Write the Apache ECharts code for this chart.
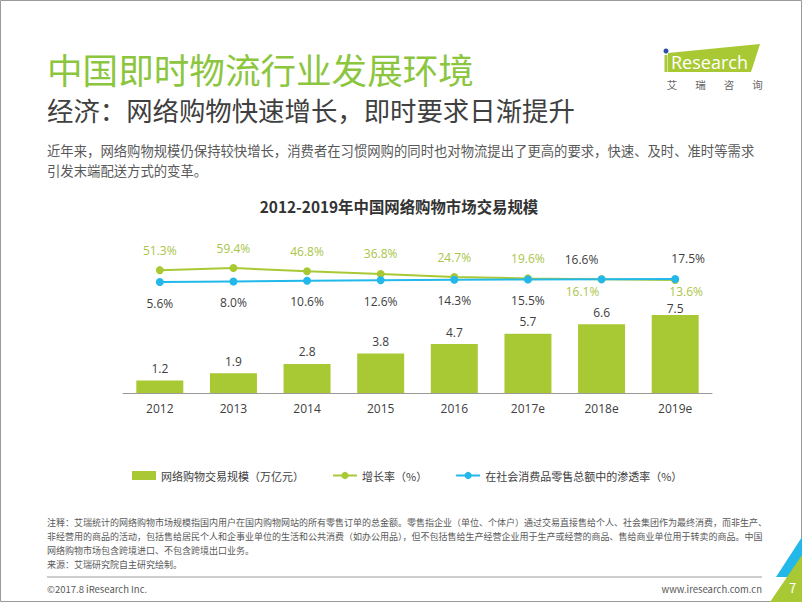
<!DOCTYPE html>
<html><head><meta charset="utf-8">
<script src="https://cdn.jsdelivr.net/npm/echarts@6/dist/echarts.min.js"></script>
<style>html,body{margin:0;padding:0;background:#fff}#c{width:802px;height:602px}</style>
</head><body><div id="c"></div>
<script>
var categories = ['2012','2013','2014','2015','2016','2017e','2018e','2019e'];
var marketScale = [1.2,1.9,2.8,3.8,4.7,5.7,6.6,7.5];
var growthRate = [51.3,59.4,46.8,36.8,24.7,19.6,16.1,13.6];
var penetration = [5.6,8.0,10.6,12.6,14.3,15.5,16.6,17.5];
var seriesNames = ['网络购物交易规模（万亿元）','增长率（%）','在社会消费品零售总额中的渗透率（%）'];
var footnotes = [
 '注释：艾瑞统计的网络购物市场规模指国内用户在国内购物网站的所有零售订单的总金额。零售指企业（单位、个体户）通过交易直接售给个人、社会集团作为最终消费，而非生产、',
 '非经营用的商品的活动，包括售给居民个人和企事业单位的生活和公共消费（如办公用品），但不包括售给生产经营企业用于生产或经营的商品、售给商业单位用于转卖的商品。中国',
 '网络购物市场包含跨境进口、不包含跨境出口业务。',
 '来源：艾瑞研究院自主研究绘制。'
];
var logoChars = ['艾','瑞','咨','询'];

var FONT = '"Noto Sans CJK SC","Noto Sans",sans-serif';
var GREEN = '#A9C934', BLUE = '#22B8EA', GRAY = '#404040';
var chart = echarts.init(document.getElementById('c'), null, {renderer:'svg'});

function pct(p){ return p.value.toFixed(1) + '%'; }
var barData = marketScale.map(function(v,i){
  var o = {value:v};
  if (i === marketScale.length-1) o.label = {offset:[0,5]};
  return o;
});
var greenData = growthRate.map(function(v,i){
  var o = {value:v};
  if (i >= 6) o.label = {position:'bottom', distance:2, offset:[i===6?-19:11,0]};
  return o;
});
var blueData = penetration.map(function(v,i){
  var o = {value:v};
  if (i >= 6) o.label = {position:'top', distance:10, offset:[i===6?-20:13,0], color:GRAY};
  return o;
});

function txt(t,x,y,size,color,extra){
  var s = {text:t,x:x,y:y,font:(extra&&extra.weight?extra.weight+' ':'')+size+'px '+FONT,fill:color,verticalAlign:'middle',textAlign:(extra&&extra.align)||'left'};
  return {type:'text',style:s,z:10};
}
var graphics = [
  {type:'rect',shape:{x:0.5,y:0.5,width:801,height:601},style:{fill:'none',stroke:'#9a9a9a',lineWidth:1}},
  txt('中国即时物流行业发展环境',47,68,35.6,'#8CC63F'),
  txt('经济：网络购物快速增长，即时要求日渐提升',47,109,26.4,'#404040'),
  txt('近年来，网络购物规模仍保持较快增长，消费者在习惯网购的同时也对物流提出了更高的要求，快速、及时、准时等需求',47,150,13.35,'#595959'),
  txt('引发末端配送方式的变革。',47,170,13.35,'#595959'),
  txt('2012-2019年中国网络购物市场交易规模',399,206,15.4,'#333333',{weight:'bold',align:'center'}),
  // logo
  {type:'polygon',shape:{points:[[668,53],[760,44],[751,72],[668,72]]},style:{fill:'#A9C934'}},
  {type:'circle',shape:{cx:666,cy:51,r:2.5},style:{fill:'#2B4FA3'}},
  {type:'rect',shape:{x:664.5,y:55,width:3,height:17},style:{fill:'#A9C934'}},
  {type:'text',style:{text:'Research',x:671,y:62,font:'18px "Open Sans",sans-serif',fill:'#ffffff',verticalAlign:'middle'},z:10},
  // footer
  {type:'line',shape:{x1:47,y1:577,x2:762,y2:577},style:{stroke:'#9a9a9a',lineWidth:1}},
  txt('©2017.8 iResearch Inc.',47,589,9.5,'#595959'),
  txt('www.iresearch.com.cn',762,589,9.5,'#595959',{align:'right'}),
  {type:'polygon',shape:{points:[[776,577],[802,537],[802,577]]},style:{fill:'#22B8EA'}},
  {type:'polygon',shape:{points:[[770,602],[802,555],[802,602]]},style:{fill:'#A9C934'}},
  txt('7',789,587,13,'#ffffff')
];
logoChars.forEach(function(c,i){ graphics.push(txt(c,672+i*28.5,84,10.5,'#666666',{align:'center'})); });
footnotes.forEach(function(t,i){ graphics.push(txt(t,47,522+i*14.3,9,'#595959')); });

chart.setOption({
  animation:false,
  textStyle:{fontFamily:FONT},
  graphic:graphics,
  legend:{
    left:127, top:465, itemWidth:24, itemHeight:9, itemGap:28,
    textStyle:{fontSize:11,color:GRAY,fontFamily:FONT},
    data:[{name:seriesNames[0],icon:'rect'},{name:seriesNames[1]},{name:seriesNames[2]}]
  },
  grid:[
    {left:123,right:90,top:289,bottom:209},
    {left:123,right:90,top:257.5,bottom:318.5}
  ],
  xAxis:[
    {type:'category',gridIndex:0,data:categories,axisLine:{lineStyle:{color:'#9a9a9a'}},axisTick:{show:false},
     axisLabel:{color:GRAY,fontSize:12,margin:9,fontFamily:'"Open Sans",sans-serif'}},
    {type:'category',gridIndex:1,data:categories,show:false}
  ],
  yAxis:[
    {type:'value',gridIndex:0,min:0,max:10,show:false,splitLine:{show:false}},
    {type:'value',gridIndex:1,min:0,max:100,show:false,splitLine:{show:false}}
  ],
  series:[
    {name:seriesNames[0],type:'bar',xAxisIndex:0,yAxisIndex:0,data:barData,barWidth:47,
     itemStyle:{color:GREEN},
     label:{show:true,position:'top',distance:6,color:GRAY,fontSize:12,fontFamily:'"Open Sans",sans-serif'}},
    {name:seriesNames[1],type:'line',xAxisIndex:1,yAxisIndex:1,data:greenData,
     symbol:'circle',symbolSize:8,lineStyle:{color:GREEN,width:2},itemStyle:{color:GREEN},
     label:{show:true,position:'top',distance:10,color:'#A9C548',fontSize:12,formatter:pct,fontFamily:'"Open Sans",sans-serif'}},
    {name:seriesNames[2],type:'line',xAxisIndex:1,yAxisIndex:1,data:blueData,
     symbol:'circle',symbolSize:8,lineStyle:{color:BLUE,width:2},itemStyle:{color:BLUE},
     label:{show:true,position:'bottom',distance:11,color:GRAY,fontSize:12,formatter:pct,fontFamily:'"Open Sans",sans-serif'}}
  ]
});
</script></body></html>
